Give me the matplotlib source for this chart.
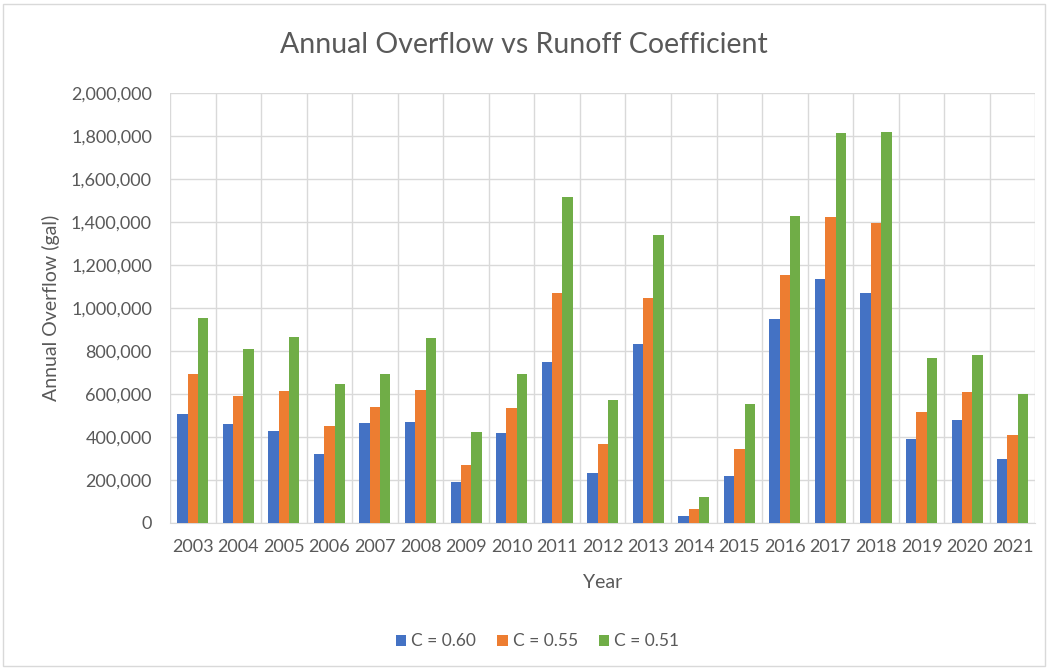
import matplotlib
matplotlib.use("Agg")
import matplotlib.pyplot as plt
import matplotlib.ticker as mticker
from matplotlib.patches import Rectangle
import numpy as np

years = ["2003", "2004", "2005", "2006", "2007", "2008", "2009", "2010", "2011", "2012",
         "2013", "2014", "2015", "2016", "2017", "2018", "2019", "2020", "2021"]
c060 = [508000, 460000, 425000, 318000, 463000, 467000, 189000, 416000, 750000, 230000,
        832000, 33000, 217000, 950000, 1133000, 1071000, 390000, 478000, 297000]
c055 = [692000, 592000, 613000, 450000, 539000, 620000, 269000, 536000, 1068000, 365000,
        1045000, 64000, 343000, 1152000, 1425000, 1394000, 514000, 609000, 408000]
c051 = [952000, 807000, 863000, 644000, 691000, 859000, 421000, 691000, 1519000, 571000,
        1342000, 120000, 554000, 1430000, 1814000, 1818000, 767000, 783000, 601000]

series = [("C = 0.60", c060, "#4472C4"),
          ("C = 0.55", c055, "#ED7D31"),
          ("C = 0.51", c051, "#70AD47")]

plt.rcParams['font.family'] = ['Lato', 'DejaVu Sans']
text_color = "#595959"

fig = plt.figure(figsize=(10.48, 6.68), dpi=100)
ax = fig.add_axes([0.1622, 0.2175, 0.8258, 0.6428])

# chart border
fig.patches.append(Rectangle((0.003, 0.003), 0.994, 0.991, transform=fig.transFigure,
                             fill=False, edgecolor="#d9d9d9", linewidth=1))

x = np.arange(len(years))
w = 0.227
for i, (label, vals, color) in enumerate(series):
    ax.bar(x + (i - 1) * w, vals, width=w, color=color, label=label, zorder=3)

ax.set_xlim(-0.5, len(years) - 0.5)
ax.set_ylim(0, 2000000)
ax.yaxis.set_major_locator(mticker.MultipleLocator(200000))
ax.yaxis.set_major_formatter(mticker.FuncFormatter(lambda v, p: f"{int(v):,}"))
ax.set_xticks(x)
ax.set_xticklabels(years)

# vertical gridlines between categories
ax.set_xticks(np.arange(len(years) + 1) - 0.5, minor=True)
ax.grid(axis="y", which="major", color="#d9d9d9", linewidth=1, zorder=0)
ax.grid(axis="x", which="minor", color="#d9d9d9", linewidth=1, zorder=0)

for s in ["top", "right", "left"]:
    ax.spines[s].set_visible(False)
ax.spines["bottom"].set_color("#d9d9d9")
ax.tick_params(which="both", length=0)
ax.tick_params(axis="both", labelsize=13, colors=text_color)
ax.tick_params(axis="x", pad=12)
ax.tick_params(axis="y", pad=13)

ax.set_xlabel("Year", fontsize=14, color=text_color)
ax.set_ylabel("Annual Overflow (gal)", fontsize=14, color=text_color)
ax.xaxis.set_label_coords(0.5, -0.12)
ax.yaxis.set_label_coords(-0.127, 0.5)
fig.text(0.5, 0.932, "Annual Overflow vs Runoff Coefficient", ha="center", va="center",
         fontsize=20.5, color=text_color)

ax.legend(loc="center", bbox_to_anchor=(0.513, 0.04), bbox_transform=fig.transFigure,
          ncol=3, frameon=False, fontsize=12.5, labelcolor=text_color,
          handlelength=0.6, handleheight=0.6, handletextpad=0.3, columnspacing=1.2)

fig.savefig("out.png", dpi=100)
